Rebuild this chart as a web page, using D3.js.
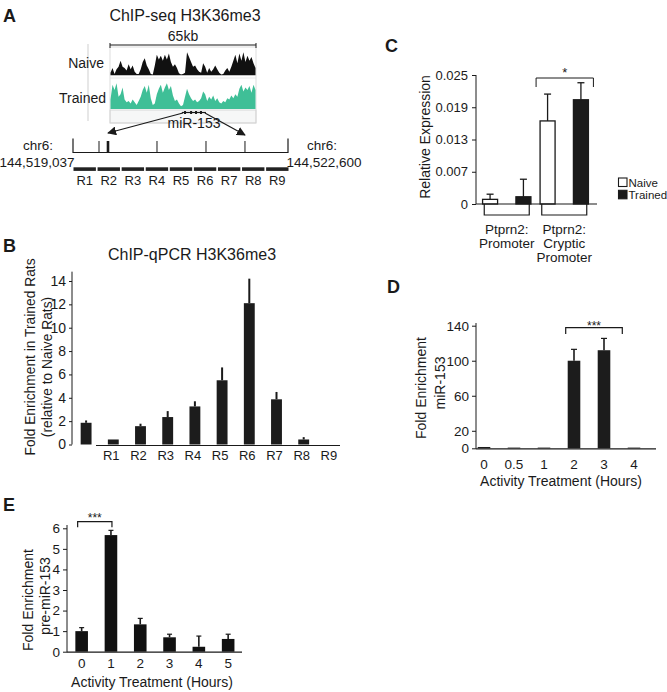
<!DOCTYPE html>
<html><head><meta charset="utf-8">
<script src="https://cdn.jsdelivr.net/npm/d3@7"></script>
<style>
body{margin:0;background:#fff}
svg{display:block;font-family:"Liberation Sans",Arial,Helvetica,sans-serif}
</style></head><body>
<svg id="c" width="667" height="692"></svg>
<script>
// ================= DATA =================
// Panel A
const titleA = "ChIP-seq H3K36me3";
const trackLabels = ["Naive", "Trained"];
const scaleLabel = "65kb";
const trackSpanKb = 65;
const naiveTrack = [0.1,0.3,0.05,0.25,0.35,0.6,0.35,0.3,0.2,0.45,0.25,0.4,0.15,0.05,0.05,0.25,0.55,0.7,0.4,0.25,0.05,0.03,0.4,0.85,0.65,0.8,0.6,0.85,0.65,0.9,0.55,0.35,0.45,0.3,0.08,0.03,0.05,0.1,0.95,0.75,0.55,0.35,0.4,0.25,0.15,0.1,0.5,0.35,0.1,0.3,0.15,0.25,0.4,0.25,0.1,0.03,0.05,0.2,0.3,0.15,0.35,0.6,0.85,0.5,0.9,0.6,0.95,0.55,0.8,0.6,0.75,0.5,0.3];
const trainedTrack = [0.35,0.9,0.7,0.95,0.45,0.55,0.8,0.35,0.25,0.3,0.2,0.35,0.25,0.15,0.3,0.45,0.7,0.85,0.6,0.9,0.4,0.15,0.2,0.55,0.75,0.9,0.6,0.8,0.95,0.7,0.85,0.5,0.3,0.35,0.2,0.1,0.15,0.45,0.75,0.55,0.4,0.3,0.35,0.25,0.3,0.4,0.65,0.55,0.3,0.45,0.35,0.5,0.3,0.4,0.25,0.2,0.3,0.25,0.4,0.35,0.5,0.4,0.55,0.45,0.75,0.9,0.65,0.8,0.7,0.85,0.6,0.9,0.7];
const geneName = "miR-153";
const geneKb = [32.0, 42.7];
const geneExonsKb = [33.4, 36.1, 38.3, 40.5];
const genomeChr = "chr6:";
const genomeStart = 144519037, genomeEnd = 144522600;
const genomeFeatures = [144519468, 144519617, 144520429, 144521241, 144521887];
const featureWeights = [1, 2.6, 1, 1, 1];
const regionLabels = ["R1","R2","R3","R4","R5","R6","R7","R8","R9"];

// Panel B
const titleB = "ChIP-qPCR H3K36me3";
const chipCategories = ["", "R1","R2","R3","R4","R5","R6","R7","R8","R9"];
const chipValues = [1.86, 0.43, 1.57, 2.35, 3.26, 5.5, 12.1, 3.87, 0.43, 0];
const chipErrors = [0.2, 0, 0.21, 0.51, 0.44, 1.1, 2.1, 0.63, 0.2, 0];
const chipTicks = [0,2,4,6,8,10,12,14];
const chipYLabel = ["Fold Enrichment in Trained Rats", "(relative to Naive Rats)"];

// Panel C
const cGroups = [["Ptprn2:","Promoter"], ["Ptprn2:","Cryptic","Promoter"]];
const cSeries = ["Naive", "Trained"];
const cNaive = [0.0009, 0.0161];
const cNaiveErr = [0.001, 0.0052];
const cTrained = [0.0014, 0.0202];
const cTrainedErr = [0.0034, 0.0033];
const cTickValues = [0, 0.00625, 0.0125, 0.01875, 0.025];
const cTickLabels = ["0", "0.007", "0.013", "0.019", "0.025"];
const cYLabel = "Relative Expression";
const cSig = "*";

// Panel D
const dCats = ["0","0.5","1","2","3","4"];
const dValues = [1.5, 0.8, 0.8, 100, 112, 0.8];
const dErrors = [0, 0, 0, 13, 13.5, 0];
const dTicks = [0,20,60,100,140];
const dYLabel = ["Fold Enrichment", "miR-153"];
const dSig = "***";

// Panel E
const eCats = ["0","1","2","3","4","5"];
const eValues = [1.0, 5.67, 1.33, 0.7, 0.24, 0.62];
const eErrors = [0.17, 0.23, 0.29, 0.15, 0.52, 0.23];
const eTicks = [0,1,2,3,4,5,6];
const eYLabel = ["Fold Enrichment", "pre-miR-153"];
const eSig = "***";

const xTitle = "Activity Treatment (Hours)";
const panelLabels = ["A","B","C","D","E"];

// ================= DRAW =================
const INK = "#1a1a1a";
const TEAL = "#3fbf97";
const svg = d3.select("#c");

function txt(g, x, y, s, fs, anchor, extra) {
  const t = g.append("text").attr("x", x).attr("y", y).attr("font-size", fs)
    .attr("fill", INK).attr("text-anchor", anchor || "middle").text(s);
  if (extra) extra(t);
  return t;
}
function vtxt(g, x, y, s, fs) {
  return g.append("text").attr("transform", `translate(${x},${y}) rotate(-90)`)
    .attr("font-size", fs).attr("fill", INK).attr("text-anchor", "middle").text(s);
}
function line(g, x1, y1, x2, y2, w) {
  return g.append("line").attr("x1", x1).attr("y1", y1).attr("x2", x2).attr("y2", y2)
    .attr("stroke", INK).attr("stroke-width", w || 1);
}
function styleAxis(sel, fs) {
  sel.attr("font-family", null).attr("font-size", fs);
  sel.selectAll("path.domain").remove();
  sel.selectAll(".tick line").attr("stroke", INK);
  sel.selectAll(".tick text").attr("fill", INK);
}
function bars(g, cats, vals, errs, x, y, o) {
  g.selectAll(null).data(cats).join("rect")
    .attr("x", d => x(d)).attr("width", x.bandwidth())
    .attr("y", (d, i) => y(vals[i])).attr("height", (d, i) => y(0) - y(vals[i]))
    .attr("fill", o.fill);
  cats.forEach((d, i) => {
    if (!errs[i]) return;
    const cx = x(d) + x.bandwidth() / 2;
    line(g, cx, y(vals[i]), cx, y(vals[i] + errs[i]), o.ew || 1.5);
    if (o.cap) line(g, cx - o.cap / 2, y(vals[i] + errs[i]), cx + o.cap / 2, y(vals[i] + errs[i]), 1.2);
  });
}

// panel letters
const letterPos = [[3,22],[3,252],[385,52],[387,293],[3,511]];
panelLabels.forEach((l, i) => txt(svg, letterPos[i][0], letterPos[i][1], l, 18, "start", t => t.attr("font-weight", "bold")));

// ---------- Panel A ----------
const gA = svg.append("g");
txt(gA, 185, 21, titleA, 16);
const kb = d3.scaleLinear().domain([0, trackSpanKb]).range([110, 256]);
gA.append("rect").attr("x", 110).attr("y", 110).attr("width", 146).attr("height", 13)
  .attr("fill", "#f6f7f7").attr("stroke", "#d0d0d0").attr("stroke-width", 0.8);
gA.append("rect").attr("x", 110).attr("y", 47).attr("width", 146).attr("height", 76)
  .attr("fill", "none").attr("stroke", "#d4d4d4").attr("stroke-width", 0.8);
gA.append("line").attr("x1", 88).attr("x2", 88).attr("y1", 44).attr("y2", 121)
  .attr("stroke", "#cfcfcf").attr("stroke-width", 1);
gA.append("line").attr("x1", 110).attr("x2", 256).attr("y1", 78).attr("y2", 78)
  .attr("stroke", "#e2e2e2").attr("stroke-width", 0.8);
line(gA, kb(0), 45, kb(trackSpanKb), 45, 1);
line(gA, kb(0), 43, kb(0), 48, 1);
line(gA, kb(trackSpanKb), 43, kb(trackSpanKb), 48, 1);
txt(gA, 183, 41, scaleLabel, 14);
const binX = d3.scaleLinear().domain([0, naiveTrack.length - 1]).range([110.5, 255.5]);
const yN = d3.scaleLinear().domain([0, 1]).range([75.3, 51]);
const yT = d3.scaleLinear().domain([0, 1]).range([109, 82]);
gA.append("path").datum(naiveTrack)
  .attr("d", d3.area().x((d, i) => binX(i)).y0(yN(0)).y1(d => yN(d)))
  .attr("fill", "#111");
gA.append("path").datum(trainedTrack)
  .attr("d", d3.area().x((d, i) => binX(i)).y0(yT(0)).y1(d => yT(d)))
  .attr("fill", TEAL);
txt(gA, 104, 68, trackLabels[0], 14, "end");
txt(gA, 106, 103, trackLabels[1], 14, "end");
line(gA, kb(geneKb[0]), 112.5, kb(geneKb[1]), 112.5, 1.2);
geneExonsKb.forEach(k => gA.append("rect").attr("x", kb(k) - 1).attr("y", 111).attr("width", 2).attr("height", 3).attr("fill", INK));
const defs = svg.append("defs");
defs.append("marker").attr("id", "ah").attr("viewBox", "0 0 10 10").attr("refX", 9).attr("refY", 5)
  .attr("markerWidth", 9).attr("markerHeight", 9).attr("markerUnits", "userSpaceOnUse").attr("orient", "auto")
  .append("path").attr("d", "M0,0 L10,5 L0,10 z").attr("fill", INK);
line(gA, kb(geneKb[0]) + 1, 113, 108, 133, 1.2).attr("marker-end", "url(#ah)");
line(gA, kb(geneKb[1]) - 1, 113, 245, 135, 1.2).attr("marker-end", "url(#ah)");
txt(gA, 194, 128, geneName, 14);
const gx = d3.scaleLinear().domain([genomeStart, genomeEnd]).range([73, 288]);
line(gA, gx(genomeStart), 152.5, gx(genomeEnd), 152.5, 1);
line(gA, gx(genomeStart), 138.5, gx(genomeStart), 153, 1.2);
line(gA, gx(genomeEnd), 138.5, gx(genomeEnd), 153, 1.2);
genomeFeatures.forEach((p, i) => line(gA, gx(p), 141, gx(p), 153, featureWeights[i]));
txt(gA, 38, 150, genomeChr, 13.5);
txt(gA, 37, 167, d3.format(",")(genomeStart), 13.5);
txt(gA, 322, 150, genomeChr, 13.5);
txt(gA, 324, 167, d3.format(",")(genomeEnd), 13.5);
const rx = d3.scaleBand().domain(regionLabels).range([73.5, 288.5]).paddingInner(0.07);
gA.selectAll(null).data(regionLabels).join("rect")
  .attr("x", d => rx(d)).attr("width", rx.bandwidth()).attr("y", 167.3).attr("height", 3.6).attr("fill", "#222");
regionLabels.forEach(r => txt(gA, rx(r) + rx.bandwidth() / 2, 185, r, 13));

// ---------- Panel B ----------
const gB = svg.append("g");
txt(gB, 192, 260, titleB, 16);
const yB = d3.scaleLinear().domain([0, 14]).range([444.5, 281]);
const xB = d3.scaleBand().domain(chipCategories).range([72.5, 344.5]).paddingInner(0.6).paddingOuter(0.3);
bars(gB, chipCategories, chipValues, chipErrors, xB, yB, { fill: "#1c1c1c", ew: 2 });
gB.append("g").attr("transform", "translate(72,0)")
  .call(d3.axisLeft(yB).tickValues(chipTicks).tickFormat(d3.format("d")).tickSize(3).tickPadding(3))
  .call(s => styleAxis(s, 14));
line(gB, 72, yB(0), 72, yB(14.8), 1);
line(gB, 96, 445.5, 340, 445.5, 1);
chipCategories.forEach(c => { if (c) txt(gB, xB(c) + xB.bandwidth() / 2 - 2, 460, c, 13); });
vtxt(gB, 35, 357, chipYLabel[0], 13.8);
vtxt(gB, 52, 367, chipYLabel[1], 13.8);

// ---------- Panel C ----------
const gC = svg.append("g");
const yC = d3.scaleLinear().domain([0, 0.025]).range([204, 75]);
const xC = d3.scaleBand().domain(cGroups.map((g, i) => i)).range([478, 593]);
const xCs = d3.scaleBand().domain(cSeries).range([0, xC.bandwidth()]).paddingInner(0.55).paddingOuter(0.1375);
cGroups.forEach((grp, i) => {
  const x0 = xC(i);
  [[cNaive, cNaiveErr, "#fff"], [cTrained, cTrainedErr, INK]].forEach((s, k) => {
    const bx = x0 + xCs(cSeries[k]);
    const v = s[0][i], e = s[1][i];
    gC.append("rect").attr("x", bx).attr("width", xCs.bandwidth()).attr("y", yC(v)).attr("height", yC(0) - yC(v))
      .attr("fill", s[2]).attr("stroke", INK).attr("stroke-width", 1.3);
    const cx = bx + xCs.bandwidth() / 2;
    line(gC, cx, yC(v), cx, yC(v + e), 1.3);
    line(gC, cx - 3.5, yC(v + e), cx + 3.5, yC(v + e), 1.3);
  });
  const c = x0 + xC.bandwidth() / 2;
  gC.append("path").attr("d", `M${c - 22.5},${yC(0)} V215 H${c + 22.5} V${yC(0)}`)
    .attr("fill", "none").attr("stroke", INK).attr("stroke-width", 1.2);
  grp.forEach((l, j) => txt(gC, c, 234 + j * 14, l, 13.5));
});
gC.append("g").attr("transform", "translate(476,0)")
  .call(d3.axisLeft(yC).tickValues(cTickValues).tickFormat((d, i) => cTickLabels[i]).tickSize(4).tickPadding(4))
  .call(s => styleAxis(s, 13));
line(gC, 476, yC(0), 476, yC(0.025), 1);
line(gC, 476, yC(0), 597, yC(0), 1.2);
vtxt(gC, 430, 137, cYLabel, 14);
{
  const x1 = xC(1) + xCs(cSeries[0]) - 4, x2 = xC(1) + xCs(cSeries[1]) + xCs.bandwidth() + 5;
  gC.append("path").attr("d", `M${x1},87 V78 H${x2} V87`).attr("fill", "none").attr("stroke", INK).attr("stroke-width", 1);
  txt(gC, (x1 + x2) / 2, 77, cSig, 13);
}
cSeries.forEach((s, k) => {
  gC.append("rect").attr("x", 618.5).attr("y", 178 + k * 12.3).attr("width", 8.5).attr("height", 8.5)
    .attr("fill", k ? INK : "#fff").attr("stroke", INK).attr("stroke-width", 1.1);
  txt(gC, 628.5, 186.5 + k * 12.3, s, 11.5, "start");
});

// ---------- Panel D ----------
const gD = svg.append("g");
const yD = d3.scaleLinear().domain([0, 140]).range([448.3, 325.7]);
const xD = d3.scaleBand().domain(dCats).range([469, 649]).paddingInner(0.58).paddingOuter(0.29);
bars(gD, dCats, dValues, dErrors, xD, yD, { fill: "#1c1c1c", ew: 1.6, cap: 6 });
gD.append("g").attr("transform", "translate(476,0)")
  .call(d3.axisLeft(yD).tickValues(dTicks).tickFormat(d3.format("d")).tickSize(4).tickPadding(3))
  .call(s => styleAxis(s, 13.5));
line(gD, 476, 448.8, 476, 323, 1);
line(gD, 476, 448.8, 656, 448.8, 1.2);
dCats.forEach(c => txt(gD, xD(c) + xD.bandwidth() / 2, 469, c, 13.5));
txt(gD, 561, 486, xTitle, 14);
vtxt(gD, 426, 388, dYLabel[0], 14);
vtxt(gD, 445, 383, dYLabel[1], 14);
{
  const x1 = xD("2") - 2, x2 = xD("3") + xD.bandwidth() + 12;
  gD.append("path").attr("d", `M${x1},334 V327.7 H${x2} V334`).attr("fill", "none").attr("stroke", INK).attr("stroke-width", 1.2);
  txt(gD, (x1 + x2) / 2, 330, dSig, 12);
}

// ---------- Panel E ----------
const gE = svg.append("g");
const yE = d3.scaleLinear().domain([0, 6]).range([651.7, 528.3]);
const xE = d3.scaleBand().domain(eCats).range([67, 242.8]).paddingInner(0.57).paddingOuter(0.285);
bars(gE, eCats, eValues, eErrors, xE, yE, { fill: "#111", ew: 1.6, cap: 5 });
gE.append("g").attr("transform", "translate(67,0)")
  .call(d3.axisLeft(yE).tickValues(eTicks).tickFormat(d3.format("d")).tickSize(4).tickPadding(3))
  .call(s => styleAxis(s, 13.5));
line(gE, 67, 652.2, 67, 525, 1);
line(gE, 67, 652.2, 242, 652.2, 1.2);
eCats.forEach(c => txt(gE, xE(c) + xE.bandwidth() / 2, 668, c, 13.5));
txt(gE, 152, 687, xTitle, 14);
vtxt(gE, 33, 600, eYLabel[0], 14);
vtxt(gE, 50, 596, eYLabel[1], 14);
{
  const x1 = xE("0") + xE.bandwidth() / 2 - 4, x2 = xE("1") + xE.bandwidth() / 2 + 1;
  gE.append("path").attr("d", `M${x1},527.3 V521.7 H${x2} V527.3`).attr("fill", "none").attr("stroke", INK).attr("stroke-width", 1.2);
  txt(gE, (x1 + x2) / 2, 522, eSig, 12);
}
</script></body></html>
